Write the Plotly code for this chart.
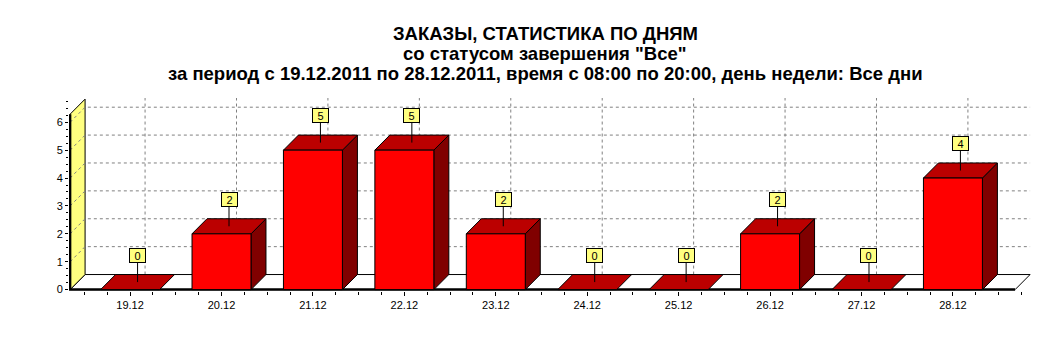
import plotly.graph_objects as go

# ---------------- data ----------------
categories = ["19.12", "20.12", "21.12", "22.12", "23.12",
              "24.12", "25.12", "26.12", "27.12", "28.12"]
orders = [0, 2, 5, 5, 2, 0, 0, 2, 0, 4]
y_ticks = [0, 1, 2, 3, 4, 5, 6]
title_lines = [
    "ЗАКАЗЫ, СТАТИСТИКА ПО ДНЯМ",
    "со статусом завершения \"Все\"",
    "за период с 19.12.2011 по 28.12.2011, время с 08:00 по 20:00, день недели: Все дни",
]

# ---------------- geometry (data units) ----------------
BAR_W = 0.645      # bar width in category units
DX = 0.164         # 3D depth offset along x
DY = 0.54          # 3D depth offset along y
X0 = -0.656        # front-left edge of chart
X1 = len(categories) - 1 + 0.68
Y_TOP = 6.29       # top of front wall

FONT = "Liberation Sans, Arial, sans-serif"
RED = "#FF0000"
TOP = "#BB0000"
SIDE = "#800000"
WALL = "#FFFF80"
GRID = "#808080"

fig = go.Figure()


def poly(xs, ys, fill, line_color="black", width=1):
    fig.add_trace(go.Scatter(x=xs, y=ys, mode="lines", fill="toself",
                             fillcolor=fill, line=dict(color=line_color, width=width),
                             hoverinfo="skip", showlegend=False))


def line(xs, ys, color="black", width=1, dash="solid"):
    fig.add_trace(go.Scatter(x=xs, y=ys, mode="lines",
                             line=dict(color=color, width=width, dash=dash),
                             hoverinfo="skip", showlegend=False))


# floor
poly([X0, X1, X1 + DX, X0 + DX, X0], [0, 0, DY, DY, 0], "white")
# left wall
poly([X0, X0 + DX, X0 + DX, X0, X0], [0, DY, Y_TOP + DY, Y_TOP, 0], WALL)

# grid on back wall and left wall
gx, gy = [], []
for k in y_ticks[1:]:
    gx += [X0, X0 + DX, X1 + DX, None]
    gy += [k, k + DY, k + DY, None]
for i in range(len(categories)):
    gx += [i + DX, i + DX, None]
    gy += [DY, Y_TOP + DY + 0.05, None]
line(gx, gy, GRID, 1, "3px,3px")

# front baseline and front-left wall edge (thick)
line([X1, X0, X0], [0, 0, Y_TOP], "black", 2.5)

# bars: front, top, side faces
fx, fy, tx, ty, sx, sy = [], [], [], [], [], []
for i, v in enumerate(orders):
    l, r = i - BAR_W / 2, i + BAR_W / 2
    if v > 0:
        fx += [l, r, r, l, l, None]
        fy += [0, 0, v, v, 0, None]
        sx += [r, r + DX, r + DX, r, r, None]
        sy += [0, DY, v + DY, v, 0, None]
    tx += [l, r, r + DX, l + DX, l, None]
    ty += [v, v, v + DY, v + DY, v, None]
poly(sx, sy, SIDE)
poly(tx, ty, TOP)
poly(fx, fy, RED)

# value labels
for i, v in enumerate(orders):
    fig.add_annotation(x=i + DX / 2, y=v + DY / 2, text=str(v),
                       showarrow=True, arrowhead=0, arrowwidth=1, arrowcolor="black",
                       ax=0, ay=-27, bgcolor=WALL, bordercolor="black",
                       borderwidth=1, borderpad=1, width=13, height=11,
                       font=dict(family=FONT, size=11, color="black"))

# title lines
title_y = [34, 53, 73]
for txt, py in zip(title_lines, title_y):
    fig.add_annotation(xref="paper", yref="paper",
                       x=(545 - 69) / 962, y=(291 - py) / 193,
                       text="<b>" + txt + "</b>", showarrow=False,
                       xanchor="center", yanchor="middle",
                       font=dict(family=FONT, size=18.5, color="black"))

fig.update_layout(
    width=1061, height=344,
    margin=dict(l=69, r=30, t=98, b=53),
    paper_bgcolor="white", plot_bgcolor="white",
    showlegend=False,
    xaxis=dict(range=[X0 - 0.012, X1 + DX + 0.01], showgrid=False, zeroline=False,
               showline=False, tickmode="array", tickvals=list(range(len(categories))),
               ticktext=categories, ticks="outside", ticklen=4, tickcolor="black",
               minor=dict(tickmode="linear", tick0=0, dtick=0.25, ticks="outside",
                          ticklen=3, tickcolor="black"),
               tickfont=dict(family=FONT, size=11, color="black"), fixedrange=True),
    yaxis=dict(range=[-0.05, Y_TOP + DY + 0.04], showgrid=False, zeroline=False,
               showline=False, tickmode="array", tickvals=y_ticks,
               ticks="outside", ticklen=3, tickcolor="black",
               minor=dict(tickmode="linear", tick0=0, dtick=0.25, ticks="outside",
                          ticklen=2, tickcolor="black"),
               tickfont=dict(family=FONT, size=11, color="black"), fixedrange=True),
)

fig.write_html("out.html")
